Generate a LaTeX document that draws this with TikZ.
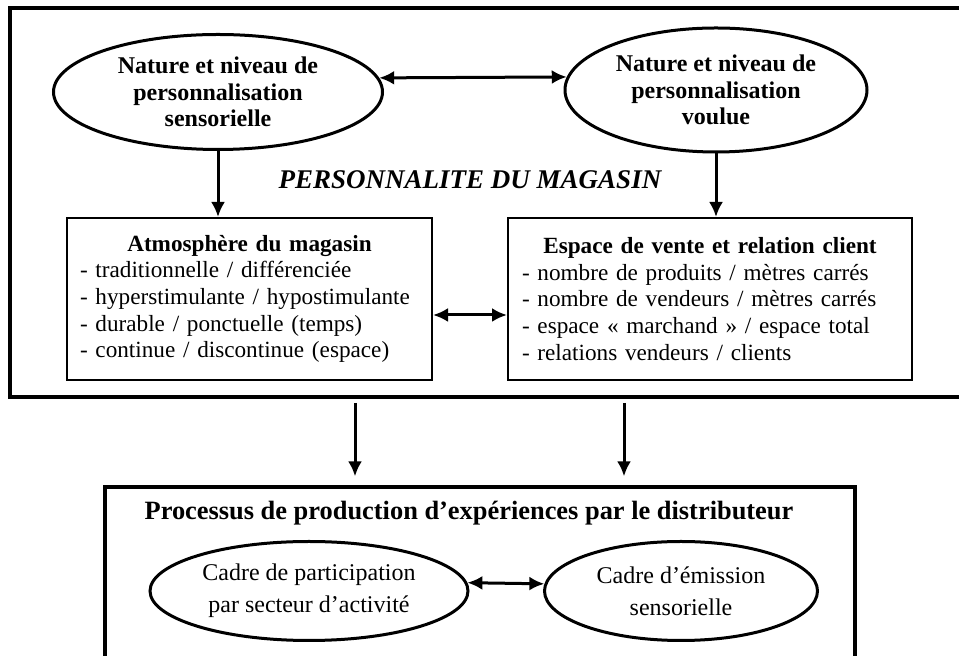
\documentclass[tikz,border=0pt]{standalone}
\usepackage{fontspec}
\setmainfont{Liberation Serif}
\usepackage{tikz}
\usetikzlibrary{arrows.meta,shapes,positioning}
\setlength{\parindent}{0pt}
\tikzset{
    basic/.style    = {draw, font=\fontsize{12}{13.3}\selectfont},
    oval/.style     = {basic, ellipse, line width=1.5pt, inner sep=0pt, align=center},
    top oval/.style = {oval, font=\fontsize{12}{13.3}\selectfont\bfseries},
    low oval/.style = {oval, font=\fontsize{12}{16}\selectfont},
    list box/.style = {basic, rectangle, line width=1pt, align=left, minimum height=81pt,
                       font=\fontsize{11.6}{13.3}\selectfont},
    frame/.style    = {draw, rectangle, line width=1.7pt, inner sep=0pt},
    flow/.style     = {->, line width=1.5pt},
    both flow/.style = {<->, line width=1.5pt}
}

\begin{document}
\begin{tikzpicture}[x=0.5pt, y=-0.5pt,
	>={Latex[length=7.5pt,width=7pt]}]
		\useasboundingbox (0,0) rectangle (959,656);
		\clip (0,0) rectangle (959,656);
		\node[frame, minimum width=482.5pt, minimum height=194.5pt] (magasin) at (492.5,202.5) {};
		\node[top oval, minimum width=164.5pt, minimum height=57.5pt] (sensorielle) at (218,92)
			{Nature et niveau de\\personnalisation\\sensorielle};
		\node[top oval, minimum width=151pt, minimum height=62pt] (voulue) at (716,90)
			{Nature et niveau de\\personnalisation\\voulue};
		\node[font=\fontsize{13.5}{16}\selectfont\bfseries\itshape] (personnalite) at (470,180)
			{PERSONNALITE DU MAGASIN};
		\node[list box, inner xsep=6.5pt, text width=169.5pt] (atmosphere) at (249.5,299)
			{{\centering\textbf{Atmosphère du magasin}\par}
			- traditionnelle / différenciée\\
			- hyperstimulante / hypostimulante\\
			- durable / ponctuelle (temps)\\
			- continue / discontinue (espace)};
		\node[list box, inner xsep=7pt, text width=188pt] (espace) at (710,299)
			{{\centering\textbf{Espace de vente et relation client}\par}
			- nombre de produits / mètres carrés\\
			- nombre de vendeurs / mètres carrés\\
			- espace « marchand » / espace total\\
			- relations vendeurs / clients};
		\draw[both flow] (sensorielle.5) -- (voulue.175);
		\draw[flow] (sensorielle.south) -- (sensorielle.south |- atmosphere.north);
		\draw[flow] (voulue.south) -- (voulue.south |- espace.north);
		\draw[both flow] ([yshift=-8pt]atmosphere.east) -- ([yshift=-8pt]espace.west);
		\node[frame, line width=1.6pt, minimum width=375pt, minimum height=96.5pt] (processus) at (480,583.5) {};
		\node[font=\fontsize{13.2}{15}\selectfont\bfseries] (titre) at (469,513)
			{Processus de production d’expériences par le distributeur};
		\node[low oval, minimum width=159pt, minimum height=49.5pt] (participation) at (309,591)
			{Cadre de participation\\par secteur d’activité};
		\node[low oval, minimum width=136.5pt, minimum height=49.5pt] (emission) at (681,591)
			{Cadre d’émission\\sensorielle};
		\draw[both flow] (participation.3) -- (emission.177);
		\coordinate (sortie1) at (355,403);
		\coordinate (sortie2) at (624,403);
		\draw[flow, shorten >=4.5pt] (sortie1) -- (sortie1 |- processus.north);
		\draw[flow, shorten >=4.5pt] (sortie2) -- (sortie2 |- processus.north);
\end{tikzpicture}
\end{document}
